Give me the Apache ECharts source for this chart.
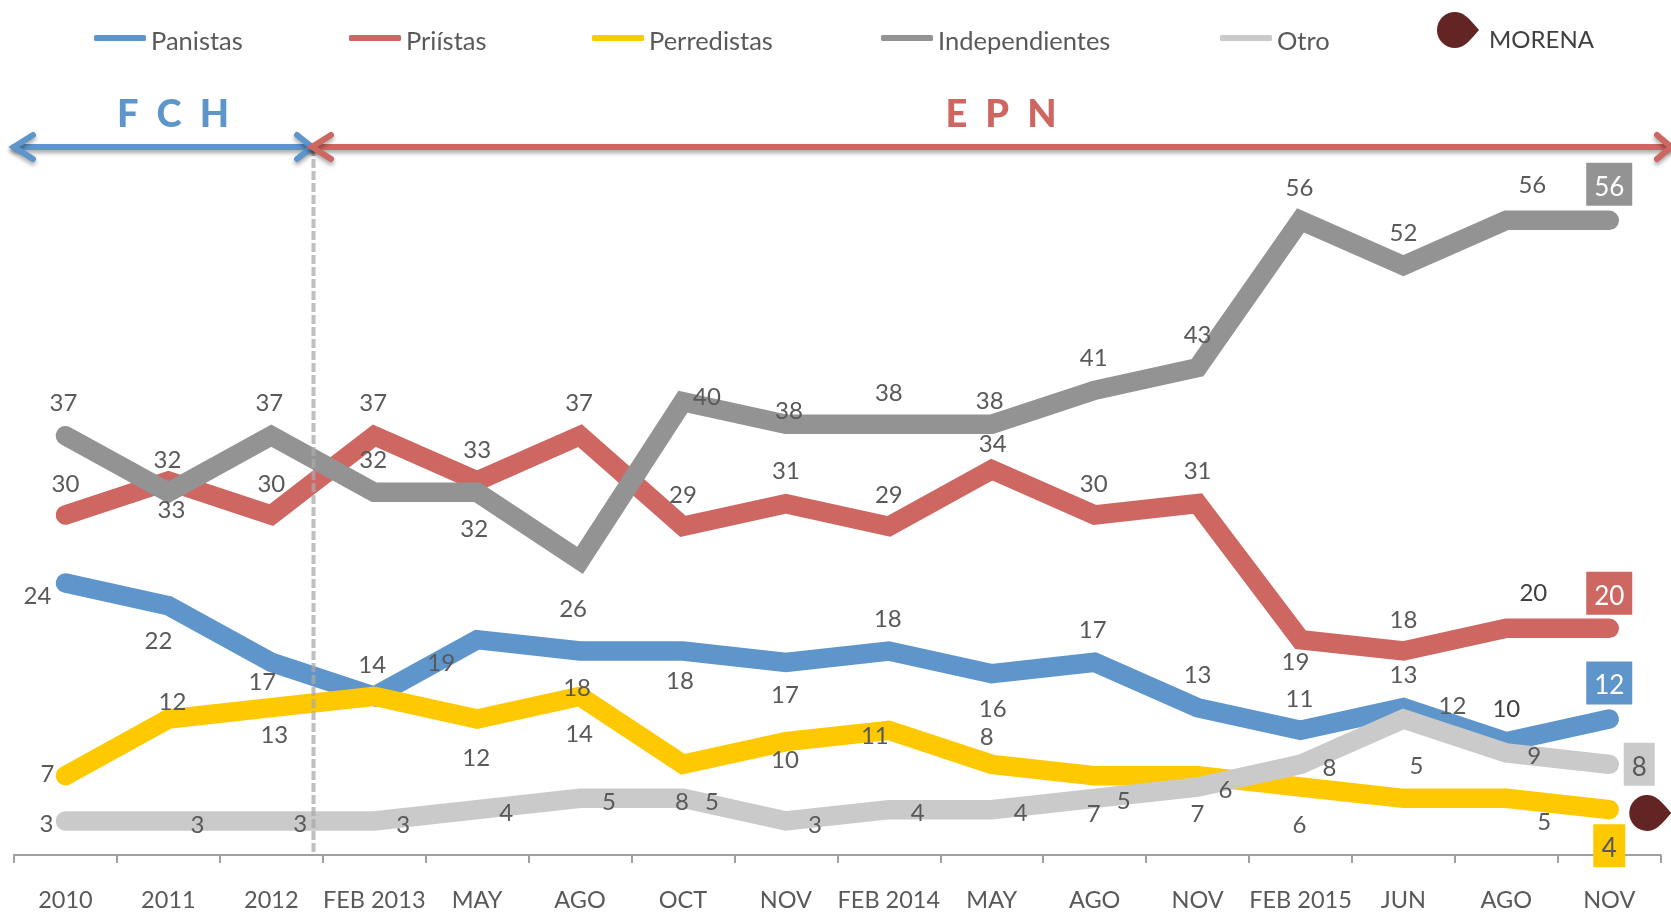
<!DOCTYPE html>
<html>
<head>
<meta charset="utf-8">
<style>html,body{margin:0;padding:0;background:#fff}#c{width:1671px;height:913px}</style>
<script src="https://cdn.jsdelivr.net/npm/echarts@6/dist/echarts.min.js"></script>
</head>
<body>
<div id="c"></div>
<script>
const categories = ['2010','2011','2012','FEB 2013','MAY','AGO','OCT','NOV','FEB 2014','MAY','AGO','NOV','FEB 2015','JUN','AGO','NOV'];
const panistas       = [24,22,17,14,19,18,18,17,18,16,17,13,11,13,10,12];
const priistas       = [30,33,30,37,33,37,29,31,29,34,30,31,19,18,20,20];
const perredistas    = [7,12,13,14,12,14,8,10,11,8,7,7,6,5,5,4];
const independientes = [37,32,37,32,32,26,40,38,38,38,41,43,56,52,56,56];
const otro           = [3,3,3,3,4,5,5,3,4,4,5,6,8,12,9,8];
const morena         = [null,null,null,null,null,null,null,null,null,null,null,null,null,null,null,3.8];

const FONT = 'Lato';
const TXT = '#595959';
const BLUE = '#5E95CA', RED = '#CE6661', YEL = '#FFC901', DGR = '#939393', LGR = '#CACACA', MOR = '#632523';
const PIN = 'path://M18 0C26 0 31 5 42 18C31 31 26 36 18 36A18 18 0 0 1 18 0Z';

// label placement relative to each point (layout only)
const offPan = [[-28,13],[-10,36],[-9,20],[-2,-31],[-36,24],[-3,37],[-3,30],[-1,33],[-1,-32],[1,36],[-2,-32],[0,-32],[-1,-31],[0,-32],[0,-32],[0,-36]];
const offPri = [[0,-31],[3,29],[0,-31],[-1,-32],[0,-31],[-1,-32],[0,-31],[0,-32],[0,-31],[1,-25],[-1,-31],[0,-32],[-5,23],[0,-31],[27,-35],[0,-35]];
const offPer = [[-18,-1],[4,-17],[3,28],[0,0],[-1,39],[-1,38],[-1,38],[-1,19],[-14,6],[-5,-27],[-1,39],[0,39],[-1,38],[13,-32],[38,24],[0,36]];
const offInd = [[-2,-32],[-1,-32],[-2,-32],[-1,-32],[-3,37],[-7,49],[24,-4],[3,-13],[0,-31],[-2,-23],[-1,-32],[0,-32],[-1,-32],[0,-32],[26,-35],[0,-36]];
const offOtr = [[-19,3],[29,4],[29,3],[29,4],[29,4],[29,4],[29,4],[29,4],[29,4],[29,4],[29,3],[28,3],[29,4],[49,-13],[28,3],[30,0]];

function labelled(values, offs, boxBg, boxText, hidden, dark) {
  return values.map((v, i) => {
    const label = {show: !(hidden || []).includes(i), position: 'inside', offset: offs[i], color: (dark || []).includes(i) ? '#404040' : TXT};
    if (i === values.length - 1) {
      Object.assign(label, {
        backgroundColor: boxBg, color: boxText, fontSize: 26, width: 46, height: 31, lineHeight: 31,
        padding: [9,0,3,0], align: 'center', verticalAlign: 'top',
        offset: [offs[i][0], offs[i][1] - 21.5]
      });
    }
    return {value: v, label};
  });
}
function lineSeries(name, values, color, offs, boxText, hidden, dark, boxWidth) {
  const data = labelled(values, offs, color, boxText, hidden, dark);
  if (boxWidth) data[data.length - 1].label.width = boxWidth;
  return {
    name, type: 'line', data, clip: false, animation: false,
    symbol: 'circle', symbolSize: 1, showSymbol: true, showAllSymbol: true,
    itemStyle: {color: 'transparent'},
    lineStyle: {color, width: 19.5, cap: 'round', join: 'miter'},
    label: {show: true, fontFamily: FONT, fontSize: 24, color: TXT},
    emphasis: {disabled: true}
  };
}
function legendLine(name, left, color) {
  return {
    data: [name], left, top: 24, icon: 'roundRect', itemWidth: 52, itemHeight: 6,
    itemStyle: {color, borderWidth: 0}, lineStyle: {width: 0},
    formatter: '{a|{name}}',
    textStyle: {rich: {a: {fontFamily: FONT, fontSize: 25.5, color: TXT, padding: [8,0,0,0]}}}
  };
}
function arrow(points, color) {
  return {type: 'polyline', z: 100, shape: {points},
    style: {stroke: color, lineWidth: 6, fill: null, lineCap: 'round', lineJoin: 'miter',
      shadowBlur: 4, shadowOffsetY: 3, shadowColor: 'rgba(0,0,0,0.35)'}};
}
const AY = 147;
const chart = echarts.init(document.getElementById('c'));
chart.setOption({
  animation: false,
  backgroundColor: '#fff',
  grid: {left: 14, right: 10.3, top: 175, bottom: 58, containLabel: false},
  xAxis: {type: 'category', data: categories, boundaryGap: true,
    axisLine: {lineStyle: {color: '#A0A0A0', width: 2}},
    axisTick: {show: true, length: 8, alignWithLabel: false, lineStyle: {color: '#A0A0A0', width: 2}},
    axisLabel: {fontFamily: FONT, fontSize: 23.5, color: TXT, margin: 33, interval: 0}},
  yAxis: {type: 'value', min: 0, max: 60, show: false, splitLine: {show: false}},
  legend: [
    legendLine('Panistas', 89, BLUE),
    legendLine('Priístas', 344, RED),
    legendLine('Perredistas', 587, YEL),
    legendLine('Independientes', 876, DGR),
    legendLine('Otro', 1215, LGR),
    {data: ['MORENA'], left: 1432, top: 7, icon: PIN, itemWidth: 42, itemHeight: 36,
     itemStyle: {color: MOR, borderWidth: 0, opacity: 1},
     formatter: '{a|{name}}',
     textStyle: {rich: {a: {fontFamily: FONT, fontSize: 24, color: '#404040', padding: [21,0,0,5]}}}}
  ],
  series: [
    lineSeries('Panistas', panistas, BLUE, offPan, '#fff', [], [14]),
    lineSeries('Priístas', priistas, RED, offPri, '#fff', [], [14]),
    lineSeries('Perredistas', perredistas, YEL, offPer, TXT, [3], [], 32),
    lineSeries('Independientes', independientes, DGR, offInd, '#fff'),
    lineSeries('Otro', otro, LGR, offOtr, TXT, [], [], 31),
    {name: 'MORENA', type: 'scatter', data: morena, symbol: PIN, symbolSize: [42,36], symbolOffset: [41,1],
     itemStyle: {color: MOR, opacity: 1}, clip: false, animation: false, emphasis: {disabled: true}}
  ],
  graphic: [
    {type: 'line', z: 100, shape: {x1: 313.5, y1: AY, x2: 313.5, y2: 855},
     style: {stroke: 'rgba(170,170,170,0.75)', lineWidth: 4, lineDash: [9,3]}},
    arrow([[14,AY],[312,AY]], BLUE),
    arrow([[33,AY-12],[14,AY],[33,AY+12]], BLUE),
    arrow([[297,AY-12],[312,AY],[297,AY+12]], BLUE),
    arrow([[312,AY],[1670,AY]], RED),
    arrow([[331,AY-12],[312,AY],[331,AY+12]], RED),
    arrow([[1657,AY-12],[1671,AY],[1657,AY+12]], RED),
    {type: 'text', z: 100, style: {text: 'F  C  H', x: 173, y: 115, align: 'center', verticalAlign: 'middle', font: '900 38px Lato', fill: BLUE}},
    {type: 'text', z: 100, style: {text: 'E  P  N', x: 1001, y: 115, align: 'center', verticalAlign: 'middle', font: '900 38px Lato', fill: RED}}
  ]
});
</script>
</body>
</html>
